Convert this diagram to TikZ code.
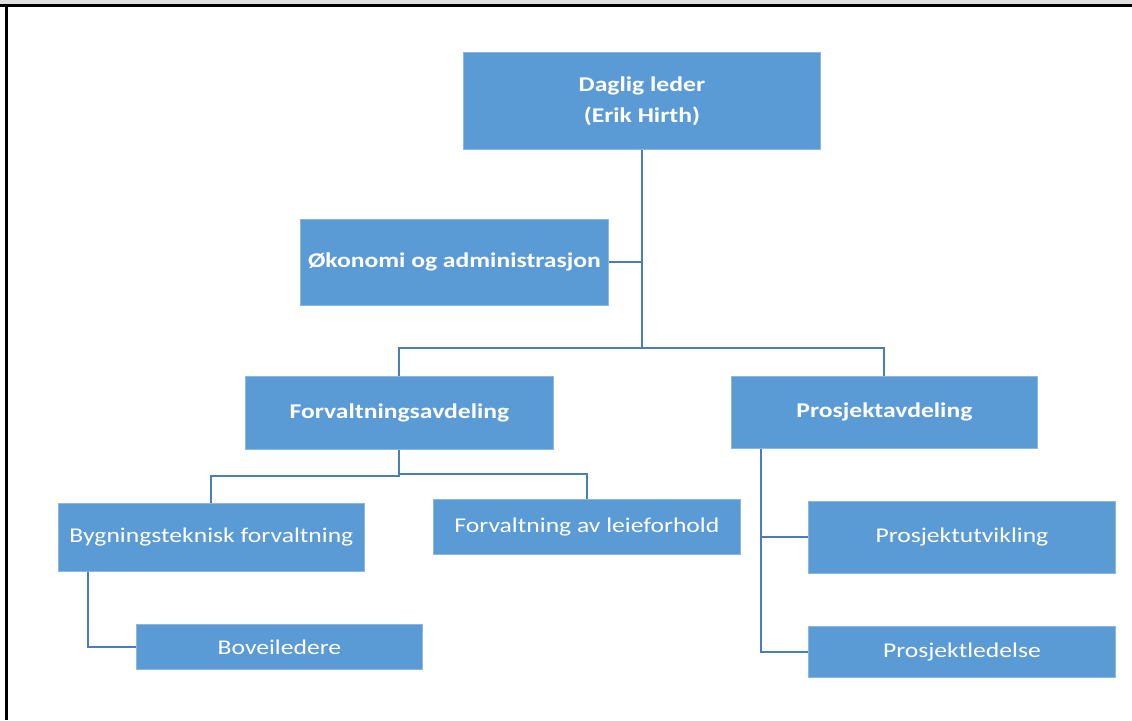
\documentclass[tikz,border=0pt]{standalone}
\usepackage{fontspec}
\newfontfamily\calfont[FakeStretch=1.22]{Carlito}
\usetikzlibrary{calc}
\definecolor{boxblue}{HTML}{5B9BD5}
\definecolor{boxedge}{HTML}{8DB7E0}
\definecolor{linkblue}{HTML}{4A7EBB}
\definecolor{bandgray}{HTML}{E0E0E0}
\tikzset{
  orgbox/.style={rectangle, fill=boxblue, draw=boxedge, line width=0.8pt, inner sep=0pt,
    anchor=north west, text=white, align=center},
  boldtext/.style={font=\calfont\bfseries\fontsize{21}{31}\selectfont},
  plaintext/.style={font=\calfont\fontsize{21}{31}\selectfont},
  conn/.style={draw=linkblue, line width=2pt},
  frameline/.style={draw=black, line width=2.6pt}
}
\begin{document}
\begin{tikzpicture}[x=1pt,y=-1pt]
\useasboundingbox (0,0) rectangle (1132,720);
\fill[bandgray] (0,0) rectangle (1132,5);
\draw[frameline] (0,5.5) -- (1132,5.5);
\draw[frameline] (6.5,4.2) -- (6.5,720);

\node[orgbox, boldtext, minimum width=357pt, minimum height=97pt] (dl) at (463,52) {Daglig leder\\(Erik Hirth)};
\node[orgbox, boldtext, minimum width=308pt, minimum height=86pt] (ok) at (300,219) {Økonomi og administrasjon};
\node[orgbox, boldtext, minimum width=308pt, minimum height=73pt] (fa) at (245,376) {Forvaltningsavdeling};
\node[orgbox, boldtext, minimum width=306pt, minimum height=72pt] (pa) at (731,376) {Prosjektavdeling};
\node[orgbox, plaintext, minimum width=306pt, minimum height=68pt] (byg) at (58,503) {Bygningsteknisk forvaltning};
\node[orgbox, plaintext, minimum width=307pt, minimum height=55pt] (leie) at (433,499) {Forvaltning av leieforhold};
\node[orgbox, plaintext, minimum width=286pt, minimum height=45pt] (bov) at (136,624) {Boveiledere};
\node[orgbox, plaintext, minimum width=307pt, minimum height=72pt] (pu) at (808,501) {Prosjektutvikling};
\node[orgbox, plaintext, minimum width=307pt, minimum height=51pt] (pl) at (808,626) {Prosjektledelse};

\coordinate (hub) at ($(dl.south)+(0,198)$);
\draw[conn] (dl.south) -- (hub);
\draw[conn] (ok.east) -- (ok.east -| dl.south);
\draw[conn] (hub) -| (fa.north);
\draw[conn] (hub) -| (pa.north);

\coordinate (fsplit) at ($(fa.south)+(0,26)$);
\draw[conn] (fa.south) -- (fsplit) -| (byg.north);
\draw[conn] ($(fa.south)+(0,24)$) -| (leie.north);

\draw[conn] ($(byg.south west)+(30,0)$) |- (bov.west);
\draw[conn] ($(pa.south west)+(30,0)$) |- (pu.west);
\draw[conn] ($(pa.south west)+(30,0)$) |- (pl.west);
\end{tikzpicture}
\end{document}
